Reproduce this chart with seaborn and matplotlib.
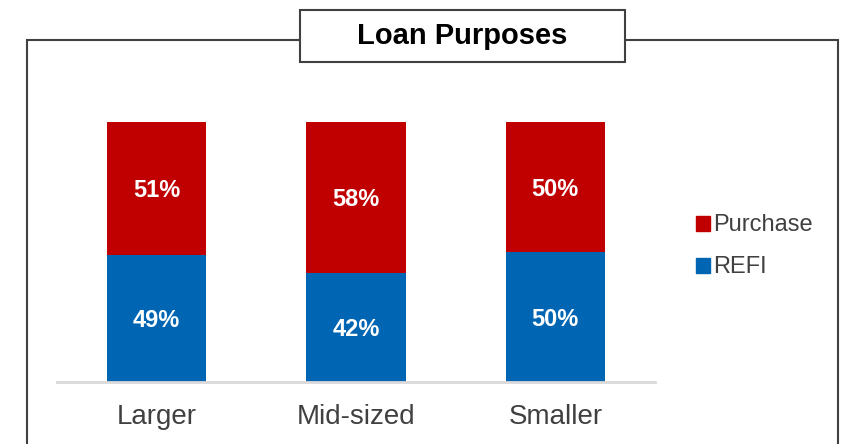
import matplotlib.pyplot as plt
import seaborn as sns
from matplotlib.patches import Rectangle, Patch

categories = ["Larger", "Mid-sized", "Smaller"]
refi = [49, 42, 50]
purchase = [51, 58, 50]

refi_color = "#0066b3"
purchase_color = "#c00000"
text_grey = "#404040"

sns.set_style("white")
plt.rcParams["font.family"] = ["Liberation Sans", "DejaVu Sans"]

fig = plt.figure(figsize=(8.43, 4.44), dpi=100)
ax = fig.add_axes([0.0676, 0.1396, 0.7094, 0.5856])

totals = [r + p for r, p in zip(refi, purchase)]
# red bar for the full stack, blue REFI share drawn over it
sns.barplot(x=categories, y=totals, color=purchase_color, width=0.5, saturation=1,
            linewidth=0, ax=ax)
sns.barplot(x=categories, y=refi, color=refi_color, width=0.5, saturation=1,
            linewidth=0, ax=ax)

for i, (r, p) in enumerate(zip(refi, purchase)):
    ax.text(i, r / 2, f"{r}%", ha="center", va="center_baseline", color="white",
            fontsize=17, fontweight="bold")
    ax.text(i, r + p / 2, f"{p}%", ha="center", va="center_baseline", color="white",
            fontsize=17, fontweight="bold")

ax.set_xlim(-0.5, 2.5)
ax.set_ylim(0, 100)
ax.set_yticks([])
sns.despine(ax=ax, left=True)
ax.spines["bottom"].set_color("#d9d9d9")
ax.spines["bottom"].set_linewidth(2)
ax.tick_params(axis="x", length=0, labelsize=20, labelcolor=text_grey, pad=16)

handles = [Patch(color=purchase_color, label="Purchase"), Patch(color=refi_color, label="REFI")]
fig.legend(handles=handles, loc="upper left", bbox_to_anchor=(0.8, 0.565), frameon=False,
           fontsize=17, labelcolor=text_grey, handlelength=0.6, handleheight=0.6,
           handletextpad=0.15, labelspacing=0.85)

# outer frame, open at the bottom
fig.add_artist(Rectangle((0.032, -0.1), 0.962, 1.01, transform=fig.transFigure,
                         fill=False, edgecolor=text_grey, linewidth=1.5))
# title box over the frame
fig.add_artist(Rectangle((0.356, 0.8604), 0.3855, 0.117, transform=fig.transFigure,
                         facecolor="white", edgecolor=text_grey, linewidth=1.5))
fig.text(0.548, 0.919, "Loan Purposes", ha="center", va="center", fontsize=21,
         fontweight="bold", color="black")

fig.savefig("out.png", dpi=100)
